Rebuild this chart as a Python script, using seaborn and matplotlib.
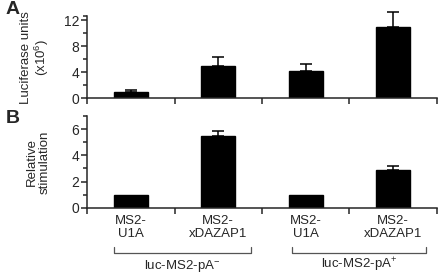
import numpy as np
import pandas as pd
import seaborn as sns
import matplotlib.pyplot as plt
from matplotlib.transforms import blended_transform_factory

# values
conditions = ['MS2-\nU1A', 'MS2-\nxDAZAP1', 'MS2-\nU1A ', 'MS2-\nxDAZAP1 ']
luciferase = [1.0, 5.0, 4.2, 11.0]
luciferase_err = [0.3, 1.3, 1.05, 2.3]
stimulation = [1.0, 5.45, 1.0, 2.92]
stimulation_err = [0.0, 0.4, 0.0, 0.27]
groups = ['luc-MS2-pA$^{-}$', 'luc-MS2-pA$^{+}$']

sns.set_style('ticks')
plt.rcParams['font.family'] = ['Liberation Sans', 'DejaVu Sans']
plt.rcParams['mathtext.fontset'] = 'custom'
plt.rcParams['mathtext.rm'] = 'Liberation Sans'
plt.rcParams['mathtext.it'] = 'Liberation Sans'
plt.rcParams['mathtext.bf'] = 'Liberation Sans:bold'

fig = plt.figure(figsize=(4.4, 2.75), dpi=100)
ax_a = fig.add_axes([0.198, 0.6425, 0.795, 0.298])
ax_b = fig.add_axes([0.198, 0.2447, 0.795, 0.333])

df = pd.DataFrame({'cond': conditions, 'luc': luciferase, 'stim': stimulation})


def draw_panel(ax, col, err, ymax, major, minor):
    sns.barplot(data=df, x='cond', y=col, color='black', width=0.39,
                saturation=1, ax=ax, errorbar=None)
    for p in ax.patches:
        p.set_edgecolor('black')
    x = np.arange(len(df))
    vals = df[col].values
    e = np.array(err)
    keep = e > 0  # no error bar where the value is the reference (1.0)
    ax.errorbar(x[keep], vals[keep], yerr=[np.zeros(keep.sum()), e[keep]], fmt='none',
                ecolor='black', elinewidth=1.1, capsize=4.5, capthick=1.1, clip_on=False)
    ax.set_xlim(-0.5, 3.5)
    ax.set_ylim(0, ymax)
    ax.set_yticks(major)
    ax.set_yticks(minor, minor=True)
    ax.set_xticks([-0.5, 0.5, 1.5, 2.5, 3.5])
    ax.set_xticklabels([])
    ax.set_xlabel('')
    for s in ['top', 'right']:
        ax.spines[s].set_visible(False)
    for s in ['left', 'bottom']:
        ax.spines[s].set_linewidth(1.1)
    ax.tick_params(axis='both', which='major', length=4, width=1.1, labelsize=10, pad=1.5)
    ax.tick_params(axis='y', which='minor', length=3, width=1.1)
    ax.tick_params(axis='x', which='minor', length=0)


draw_panel(ax_a, 'luc', luciferase_err, 12.6, [0, 4, 8, 12], [2, 6, 10, 12.6])
draw_panel(ax_b, 'stim', stimulation_err, 7, [0, 2, 4, 6], [1, 3, 5, 7])

ax_a.set_ylabel('Luciferase units\n(x10$^{6}$)', fontsize=9.5, linespacing=1.1)
ax_b.set_ylabel('Relative\nstimulation', fontsize=9.5, linespacing=1.1)
ax_a.yaxis.set_label_coords(-0.103, 0.5)
ax_b.yaxis.set_label_coords(-0.103, 0.5)

ax_b.set_xticks(np.arange(len(conditions)), minor=True)
ax_b.set_xticklabels([c.strip() for c in conditions], minor=True, fontsize=9.5,
                     linespacing=1.15)
ax_b.tick_params(axis='x', which='minor', pad=5)

fig.text(0.012, 0.965, 'A', fontsize=14, fontweight='bold', va='center')
fig.text(0.012, 0.57, 'B', fontsize=14, fontweight='bold', va='center')

# group brackets under the category labels
tr = blended_transform_factory(ax_b.transData, fig.transFigure)
y_low, y_high = 1 - 253 / 275, 1 - 246.5 / 275
for (x0, x1), name in zip([(-0.19, 1.37), (1.84, 3.38)], groups):
    ax_b.plot([x0, x0, x1, x1], [y_high, y_low, y_low, y_high], color='#555555',
              lw=0.9, transform=tr, clip_on=False)
    ax_b.text((x0 + x1) / 2, 1 - 268.5 / 275, name, transform=tr, ha='center',
              va='baseline', fontsize=9.5)

fig.savefig('out.png', dpi=100)
